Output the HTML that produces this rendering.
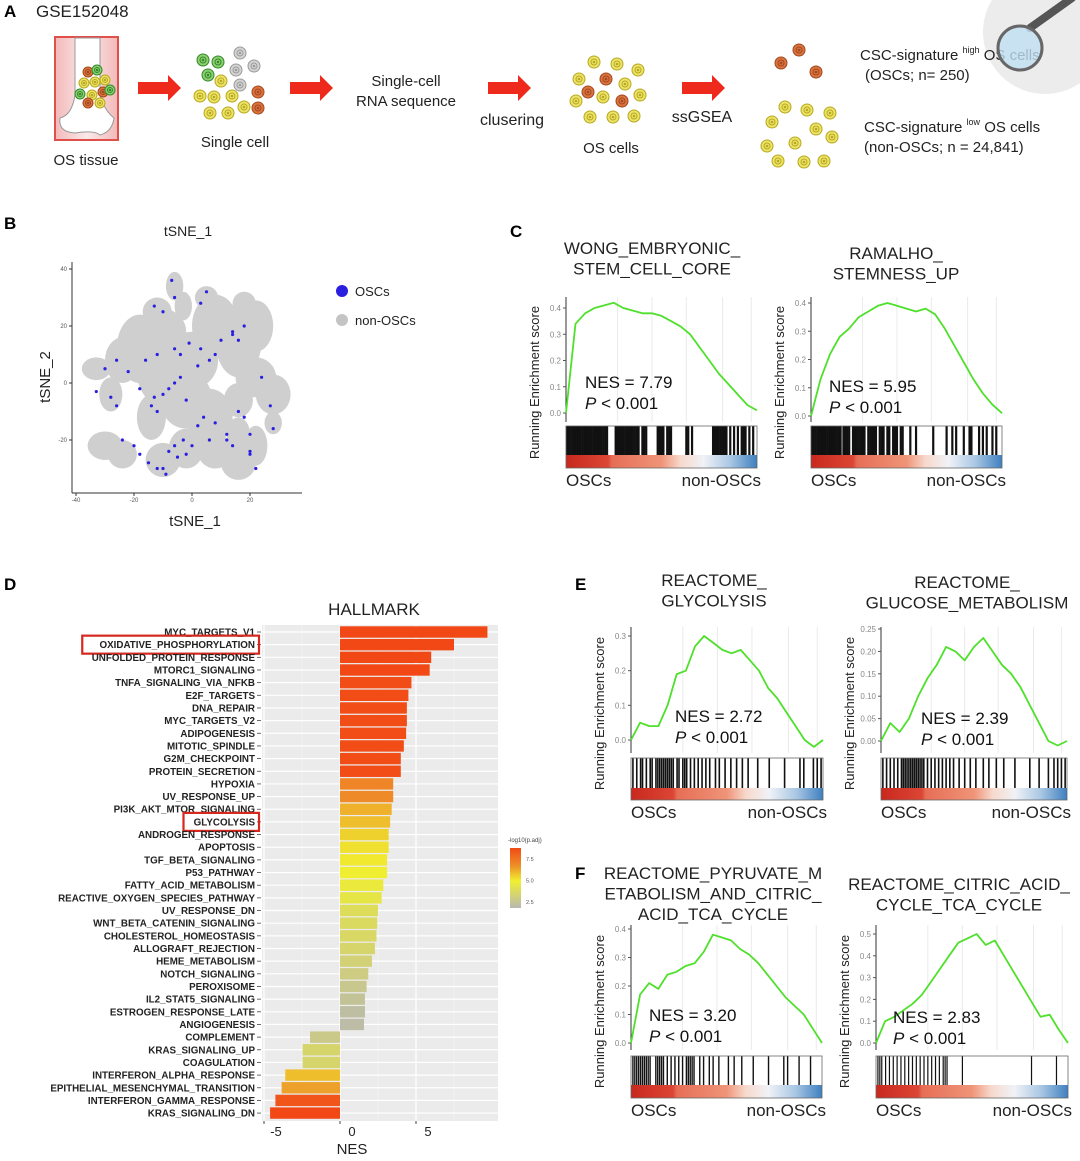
<!DOCTYPE html>
<html><head><meta charset="utf-8">
<style>
html,body{margin:0;padding:0;background:#fff;}
svg{display:block;font-family:"Liberation Sans",Arial,sans-serif;}
</style></head>
<body>
<svg id="fig" width="1080" height="1161" viewBox="0 0 1080 1161" xmlns="http://www.w3.org/2000/svg">
<defs>
<linearGradient id="rankGrad" x1="0" x2="1" y1="0" y2="0">
<stop offset="0" stop-color="#c8281e"/><stop offset="0.22" stop-color="#dc4634"/>
<stop offset="0.24" stop-color="#e66e56"/><stop offset="0.5" stop-color="#ef9478"/>
<stop offset="0.6" stop-color="#f7d9cc"/><stop offset="0.72" stop-color="#f0f2f7"/>
<stop offset="0.86" stop-color="#a9c7e3"/><stop offset="1" stop-color="#3f80c0"/>
</linearGradient>
<linearGradient id="pGrad" x1="0" x2="0" y1="0" y2="1">
<stop offset="0" stop-color="#f04a14"/><stop offset="0.3" stop-color="#ee9028"/>
<stop offset="0.55" stop-color="#f0ef30"/><stop offset="1" stop-color="#b8b8b2"/>
</linearGradient>
<linearGradient id="pinkGrad" x1="0" x2="1" y1="0" y2="0">
<stop offset="0" stop-color="#f3b9b9"/><stop offset="0.5" stop-color="#fbe9e9"/><stop offset="1" stop-color="#f3b9b9"/>
</linearGradient>
</defs>

<g>
<text x="4" y="17" font-size="17" font-weight="bold">A</text>
<text x="36" y="17" font-size="17" fill="#222">GSE152048</text>
<rect x="55" y="37" width="63" height="103" fill="url(#pinkGrad)" stroke="#e0504a" stroke-width="2"/>
<path d="M75 38 L75 95 Q72 115 60 118 Q58 132 75 133 Q95 130 100 135 Q112 132 114 118 Q104 110 100 95 L100 38 Z" fill="#fff" stroke="#999" stroke-width="1"/>
<text x="86" y="165" font-size="15" fill="#222" text-anchor="middle">OS tissue</text>
<g id="cellsA"></g>
<text x="235" y="147" font-size="15" fill="#222" text-anchor="middle">Single cell</text>
<text x="406" y="86" font-size="15" fill="#222" text-anchor="middle">Single-cell</text>
<text x="406" y="106" font-size="15" fill="#222" text-anchor="middle">RNA sequence</text>
<text x="512" y="125" font-size="16" fill="#222" text-anchor="middle">clusering</text>
<text x="611" y="153" font-size="15" fill="#222" text-anchor="middle">OS cells</text>
<text x="702" y="122" font-size="16" fill="#222" text-anchor="middle">ssGSEA</text>
<circle cx="1045" cy="32" r="62" fill="#ececec"/>
<text x="860" y="60" font-size="15" fill="#222">CSC-signature <tspan font-size="9" dy="-7">high</tspan><tspan dy="7"> OS cells</tspan></text>
<text x="865" y="80" font-size="15" fill="#222">(OSCs; n= 250)</text>
<text x="864" y="132" font-size="15" fill="#222">CSC-signature <tspan font-size="9" dy="-7">low</tspan><tspan dy="7"> OS cells</tspan></text>
<text x="864" y="152" font-size="15" fill="#222">(non-OSCs; n = 24,841)</text>
<line x1="1030" y1="28" x2="1072" y2="-2" stroke="#555" stroke-width="8" stroke-linecap="round"/>
<circle cx="1020" cy="48" r="22" fill="#bfe0f3" fill-opacity="0.8" stroke="#666" stroke-width="3"/>
<g id="arrowsA"></g>
</g>

<g>
<text x="4" y="229" font-size="17" font-weight="bold">B</text>
<text x="188" y="236" font-size="14" fill="#222" text-anchor="middle">tSNE_1</text>
<g id="tsne"></g>
<circle cx="342" cy="291" r="6" fill="#2a1fe0"/>
<text x="355" y="296" font-size="13" fill="#222">OSCs</text>
<circle cx="342" cy="320" r="6" fill="#c4c4c4"/>
<text x="355" y="325" font-size="13" fill="#222">non-OSCs</text>
<text x="195" y="526" font-size="15" fill="#222" text-anchor="middle">tSNE_1</text>
<text transform="translate(50,377) rotate(-90)" font-size="15" fill="#222" text-anchor="middle">tSNE_2</text>
</g>

<text x="510" y="237" font-size="17" font-weight="bold">C</text>
<text x="4" y="590" font-size="17" font-weight="bold">D</text>
<text x="575" y="590" font-size="17" font-weight="bold">E</text>
<text x="575" y="879" font-size="17" font-weight="bold">F</text>
<g id="gseaPanels"></g>
<g id="hallmark"></g>
</svg>

<script>
const hmCategories = ["MYC_TARGETS_V1","OXIDATIVE_PHOSPHORYLATION","UNFOLDED_PROTEIN_RESPONSE","MTORC1_SIGNALING","TNFA_SIGNALING_VIA_NFKB","E2F_TARGETS","DNA_REPAIR","MYC_TARGETS_V2","ADIPOGENESIS","MITOTIC_SPINDLE","G2M_CHECKPOINT","PROTEIN_SECRETION","HYPOXIA","UV_RESPONSE_UP","PI3K_AKT_MTOR_SIGNALING","GLYCOLYSIS","ANDROGEN_RESPONSE","APOPTOSIS","TGF_BETA_SIGNALING","P53_PATHWAY","FATTY_ACID_METABOLISM","REACTIVE_OXYGEN_SPECIES_PATHWAY","UV_RESPONSE_DN","WNT_BETA_CATENIN_SIGNALING","CHOLESTEROL_HOMEOSTASIS","ALLOGRAFT_REJECTION","HEME_METABOLISM","NOTCH_SIGNALING","PEROXISOME","IL2_STAT5_SIGNALING","ESTROGEN_RESPONSE_LATE","ANGIOGENESIS","COMPLEMENT","KRAS_SIGNALING_UP","COAGULATION","INTERFERON_ALPHA_RESPONSE","EPITHELIAL_MESENCHYMAL_TRANSITION","INTERFERON_GAMMA_RESPONSE","KRAS_SIGNALING_DN"];
const hmNES = [9.7,7.5,6.0,5.9,4.7,4.5,4.4,4.4,4.35,4.2,4.0,4.0,3.5,3.5,3.4,3.3,3.2,3.2,3.1,3.1,2.85,2.74,2.5,2.45,2.4,2.3,2.1,1.86,1.75,1.64,1.64,1.58,-1.97,-2.46,-2.46,-3.6,-3.84,-4.25,-4.6];
const hmLogP = [8.6,8.6,8.6,8.6,8.5,8.5,8.5,8.5,8.5,8.5,8.5,8.5,7.2,7.1,6.3,6.0,5.6,5.3,5.1,5.0,4.7,4.4,3.9,3.7,3.6,3.4,3.1,2.8,2.5,2.2,1.9,1.8,2.6,3.4,3.4,6.0,6.6,8.3,8.6];
const hmXTicks = [-5,0,5];
const hmLegendTicks = ["7.5","5.0","2.5"];
const hmLegendVals = [7.5,5.0,2.5];
const hmBoxed = ["OXIDATIVE_PHOSPHORYLATION","GLYCOLYSIS"];

const tsneClusters = [[-33,5,5,4],[-28,-4,4,6],[-24,8,6,8],[-18,12,8,12],[-10,18,8,8],[-12,25,5,5],[-6,34,3,5],[-3,27,3,5],[-10,4,9,12],[0,8,9,10],[-2,-6,9,10],[6,-12,8,10],[-14,-12,5,8],[-30,-22,6,5],[-24,-25,5,5],[-10,-27,6,6],[-2,-23,6,7],[8,-24,6,6],[16,-18,4,6],[16,-28,6,6],[22,-22,4,7],[8,20,8,11],[16,15,8,13],[22,20,6,9],[22,2,7,7],[28,-4,6,7],[16,-6,5,6],[28,-14,3,4],[5,30,4,4],[18,28,4,4]];
const tsneOSCx = [-33,-28,-26,-24,-20,-18,-15,-12,-10,-9,-8,-6,-5,-3,-2,0,2,4,6,-14,-12,-10,-8,-6,-4,-2,2,6,8,12,14,16,18,20,22,-30,-26,-22,-16,-12,-6,-4,-1,3,10,14,18,20,-7,-6,3,5,14,16,-18,-13,8,12,20,24,27,28,-10,-13];
const tsneOSCy = [-3,-5,-8,-20,-22,-25,-28,-30,-30,-32,-24,-22,-26,-20,-25,-22,-15,-12,-20,-8,-10,-4,-2,0,2,-6,6,8,10,-20,-22,-10,-12,-24,-30,5,8,4,8,10,12,10,14,12,15,18,20,-25,36,30,28,32,17,15,-2,-5,-14,-18,-18,2,-8,-16,25,27];

const c1ES = [0,0.34,0.38,0.40,0.41,0.42,0.40,0.39,0.38,0.38,0.37,0.35,0.33,0.30,0.25,0.20,0.15,0.11,0.07,0.03,0.01];
const c2ES = [0,0.13,0.22,0.28,0.31,0.35,0.37,0.39,0.40,0.39,0.38,0.37,0.38,0.36,0.31,0.25,0.19,0.13,0.08,0.04,0.01];
const e1ES = [0,0.05,0.04,0.04,0.10,0.19,0.20,0.27,0.30,0.28,0.26,0.25,0.26,0.23,0.20,0.15,0.12,0.08,0.04,0.0,-0.02,0];
const e2ES = [0,0.04,0.02,0.05,0.10,0.14,0.17,0.21,0.20,0.18,0.21,0.23,0.20,0.17,0.15,0.12,0.08,0.04,0.0,-0.01,0];
const f1ES = [0,0.17,0.21,0.19,0.24,0.25,0.27,0.28,0.32,0.38,0.37,0.36,0.33,0.31,0.28,0.24,0.20,0.16,0.13,0.10,0.05,0];
const f2ES = [0,0.10,0.12,0.15,0.18,0.22,0.28,0.34,0.40,0.46,0.48,0.50,0.45,0.47,0.40,0.33,0.26,0.19,0.12,0.13,0.06,0];
const c1Hits = [0.005,0.015,0.025,0.035,0.045,0.055,0.065,0.075,0.085,0.095,0.105,0.115,0.125,0.135,0.145,0.155,0.165,0.175,0.185,0.195,0.205,0.215,0.26,0.27,0.28,0.29,0.30,0.31,0.32,0.33,0.34,0.35,0.36,0.37,0.38,0.40,0.41,0.42,0.48,0.49,0.50,0.51,0.53,0.54,0.55,0.63,0.64,0.66,0.77,0.78,0.79,0.80,0.81,0.82,0.83,0.84,0.86,0.88,0.90,0.92,0.93,0.94,0.96,0.98];
const c2Hits = [0.005,0.015,0.025,0.035,0.045,0.055,0.065,0.075,0.085,0.095,0.105,0.115,0.125,0.135,0.145,0.155,0.17,0.18,0.19,0.20,0.22,0.23,0.24,0.25,0.26,0.27,0.28,0.30,0.31,0.32,0.33,0.34,0.36,0.37,0.38,0.40,0.41,0.43,0.44,0.45,0.47,0.48,0.52,0.55,0.64,0.71,0.74,0.76,0.80,0.83,0.84,0.88,0.90,0.92,0.95,0.97];
const e1Hits = [0.01,0.03,0.05,0.06,0.08,0.10,0.11,0.13,0.14,0.15,0.16,0.17,0.18,0.19,0.20,0.21,0.22,0.24,0.25,0.27,0.28,0.29,0.31,0.33,0.35,0.37,0.39,0.41,0.44,0.46,0.49,0.52,0.55,0.58,0.61,0.66,0.72,0.80,0.88,0.90,0.95,0.97,0.99];
const e2Hits = [0.01,0.03,0.05,0.07,0.09,0.11,0.12,0.13,0.14,0.15,0.16,0.17,0.18,0.19,0.20,0.21,0.22,0.23,0.25,0.27,0.29,0.31,0.33,0.35,0.37,0.39,0.42,0.45,0.48,0.51,0.55,0.58,0.62,0.66,0.72,0.80,0.85,0.90,0.93,0.95,0.97,0.99];
const f1Hits = [0.01,0.02,0.03,0.04,0.05,0.06,0.07,0.08,0.09,0.10,0.13,0.14,0.15,0.16,0.17,0.19,0.21,0.23,0.25,0.27,0.29,0.30,0.31,0.32,0.33,0.36,0.38,0.41,0.43,0.46,0.51,0.54,0.58,0.64,0.72,0.80,0.82,0.88,0.94];
const f2Hits = [0.01,0.02,0.03,0.05,0.07,0.09,0.11,0.13,0.15,0.17,0.19,0.21,0.23,0.25,0.27,0.29,0.31,0.33,0.35,0.36,0.37,0.45,0.81,0.94];

const NS = "http://www.w3.org/2000/svg";
function mk(tag, attrs, parent){ const e=document.createElementNS(NS,tag); for(const k in attrs) e.setAttribute(k,attrs[k]); if(parent) parent.appendChild(e); return e; }

const cellColors = {g:["#2f8a2a","#8fcf70"], y:["#b8a81c","#ece36a"], r:["#a4461e","#d9743e"], s:["#9a9a9a","#d4d4d4"]};
const cellsA = document.getElementById('cellsA');
const cellList = [
 [203,60,'g'],[218,62,'g'],[208,75,'g'],[240,53,'s'],[236,70,'s'],[254,66,'s'],[240,85,'s'],
 [221,81,'y'],[200,96,'y'],[214,97,'y'],[232,96,'y'],[210,113,'y'],[228,113,'y'],[244,107,'y'],[258,92,'r'],[258,108,'r'],
 [594,62,'y'],[617,64,'y'],[638,70,'y'],[579,79,'y'],[625,84,'y'],[640,95,'y'],[576,101,'y'],[603,97,'y'],[590,117,'y'],[613,117,'y'],[634,116,'y'],[606,79,'r'],[588,92,'r'],[622,101,'r'],
 [799,50,'r'],[781,63,'r'],[816,72,'r'],
 [785,107,'y'],[807,110,'y'],[830,113,'y'],[772,122,'y'],[816,129,'y'],[832,137,'y'],[767,146,'y'],[795,143,'y'],[778,161,'y'],[804,162,'y'],[824,161,'y'],
 [88,72,'r'],[97,70,'g'],[84,83,'y'],[95,82,'y'],[105,80,'y'],[80,94,'g'],[92,95,'y'],[103,92,'r'],[88,103,'r'],[100,103,'y'],[110,90,'g']
];
cellList.forEach(c=>{
  const col = cellColors[c[2]]; const small = c[0]<130;
  const r = small?5:6;
  const g = mk('g',{},cellsA);
  
  
  mk('circle',{cx:c[0],cy:c[1],r:r,fill:col[1],stroke:col[0],'stroke-width':1},g);
  mk('circle',{cx:c[0],cy:c[1],r:r*0.5,fill:'none',stroke:col[0],'stroke-width':1},g);
  mk('circle',{cx:c[0],cy:c[1],r:1.3,fill:col[0]},g);
});
const arrowsA = document.getElementById('arrowsA');
[[138,88],[290,88],[488,88],[682,88]].forEach(a=>{
  const p = mk('path',{d:`M${a[0]} ${a[1]-6} h30 v-7 l13 13 l-13 13 v-7 h-30 z`,fill:'#ee2a1c'},arrowsA);
  
  
});

(function(){
  const g = document.getElementById('tsne');
  const sx = v => 192 + v*2.9;
  const sy = v => 383 - v*2.85;
  const clip = mk('g',{opacity:'0.88'},g);
  tsneClusters.forEach(c=>{
    const e = mk('ellipse',{cx:sx(c[0]),cy:sy(c[1]),rx:c[2]*2.9,ry:c[3]*2.85,fill:'#c9c9c9'},clip);
    
    
  });
  tsneOSCx.forEach((x,i)=>{
    const p = mk('circle',{cx:sx(x),cy:sy(tsneOSCy[i]),r:1.6,fill:'#2a1fe0'},g);
    
    
  });
  mk('line',{x1:72,y1:262,x2:72,y2:493,stroke:'#333','stroke-width':1},g);
  mk('line',{x1:72,y1:493,x2:302,y2:493,stroke:'#333','stroke-width':1},g);
  [40,20,0,-20].forEach(v=>{
    mk('line',{x1:69,y1:sy(v),x2:72,y2:sy(v),stroke:'#333'},g);
    const t = mk('text',{x:67,y:sy(v)+2,'font-size':6,'text-anchor':'end',fill:'#555'},g); t.textContent=v;
    
    
  });
  [-40,-20,0,20].forEach(v=>{
    mk('line',{x1:sx(v),y1:493,x2:sx(v),y2:496,stroke:'#333'},g);
    const t = mk('text',{x:sx(v),y:502,'font-size':6,'text-anchor':'middle',fill:'#555'},g); t.textContent=v;
    
    
  });
})();

function gsea(cfg){
  const root = document.getElementById('gseaPanels');
  const g = mk('g',{},root);
  
  
  const {x0,x1,top,bot,v0y,vTop,vTopY,ticks,es,hits,bcTop,bcBot,cbBot} = cfg;
  const sy = v => v0y - (v/vTop)*(v0y - vTopY);
  const sx = f => x0 + f*(x1-x0);
  [0.27,0.45,0.63,0.82,0.97].forEach(f=>mk('line',{x1:sx(f),y1:top,x2:sx(f),y2:bot,stroke:'#eaeaea','stroke-width':1},g));
  mk('line',{x1:x0,y1:top,x2:x0,y2:bot,stroke:'#333','stroke-width':1},g);
  ticks.forEach(v=>{
    mk('line',{x1:x0-3,y1:sy(v),x2:x0,y2:sy(v),stroke:'#555'},g);
    const t = mk('text',{x:x0-5,y:sy(v)+3,'font-size':8,'text-anchor':'end',fill:'#888'},g);
    t.textContent = v.toFixed(cfg.dec);
    
    
  });
  const pts = es.map((v,i)=>`${sx(i/(es.length-1)).toFixed(1)},${sy(v).toFixed(1)}`).join(' ');
  const line = mk('polyline',{points:pts,fill:'none',stroke:'#4ee02a','stroke-width':1.8,'stroke-linejoin':'round'},g);
  
  
  hits.forEach(h=>{
    const l = mk('line',{x1:sx(h),y1:bcTop,x2:sx(h),y2:bcBot,stroke:'#111','stroke-width':cfg.hw||2.2},g);
    
    
  });
  const cb = mk('rect',{x:x0,y:bcBot,width:x1-x0,height:cbBot-bcBot,fill:'url(#rankGrad)'},g);
  
  
  mk('rect',{x:x0,y:bcTop,width:x1-x0,height:cbBot-bcTop,fill:'none',stroke:'#666','stroke-width':0.8},g);
  cfg.title.forEach((s,i)=>{
    const t = mk('text',{x:cfg.tx,y:cfg.ty+i*20.5,'font-size':17,'text-anchor':'middle',fill:'#222'},g);
    t.textContent = s;
    
    
  });
  const n = mk('text',{x:cfg.nx,y:cfg.ny,'font-size':17,fill:'#111'},g);
  n.textContent = cfg.nes;
  
  
  const p = mk('text',{x:cfg.nx,y:cfg.ny+21,'font-size':17,fill:'#111'},g);
  p.innerHTML = '<tspan font-style="italic">P</tspan> &lt; 0.001';
  
  
  const yt = mk('text',{transform:`translate(${x0-27},${(top+cbBot)/2}) rotate(-90)`,'font-size':13,'text-anchor':'middle',fill:'#222'},g);
  yt.textContent = 'Running Enrichment score';
  
  
  const a = mk('text',{x:x0,y:cbBot+18,'font-size':17,fill:'#222'},g); a.textContent='OSCs';
  
  
  const b = mk('text',{x:x1+4,y:cbBot+18,'font-size':17,fill:'#222','text-anchor':'end'},g); b.textContent='non-OSCs';
  
  
}
gsea({name:'gsea-wong',x0:566,x1:757,top:297,bot:422,v0y:413,vTop:0.4,vTopY:308,ticks:[0,0.1,0.2,0.3,0.4],dec:1,es:c1ES,hits:c1Hits,bcTop:426,bcBot:455,cbBot:468,title:['WONG_EMBRYONIC_','STEM_CELL_CORE'],tx:652,ty:254,nes:'NES = 7.79',nx:585,ny:388});
gsea({name:'gsea-ramalho',x0:811,x1:1002,top:297,bot:422,v0y:416,vTop:0.4,vTopY:303,ticks:[0,0.1,0.2,0.3,0.4],dec:1,es:c2ES,hits:c2Hits,bcTop:426,bcBot:455,cbBot:468,title:['RAMALHO_','STEMNESS_UP'],tx:896,ty:259,nes:'NES = 5.95',nx:829,ny:392});
gsea({name:'gsea-glycolysis',x0:631,x1:823,top:627,bot:753,v0y:740,vTop:0.3,vTopY:636,ticks:[0,0.1,0.2,0.3],dec:1,es:e1ES,hits:e1Hits,hw:1.6,bcTop:758,bcBot:788,cbBot:800,title:['REACTOME_','GLYCOLYSIS'],tx:714,ty:586,nes:'NES = 2.72',nx:675,ny:722});
gsea({name:'gsea-glucose',x0:881,x1:1067,top:627,bot:753,v0y:741,vTop:0.25,vTopY:629,ticks:[0,0.05,0.1,0.15,0.2,0.25],dec:2,es:e2ES,hits:e2Hits,hw:1.6,bcTop:758,bcBot:788,cbBot:800,title:['REACTOME_','GLUCOSE_METABOLISM'],tx:967,ty:588,nes:'NES = 2.39',nx:921,ny:724});
gsea({name:'gsea-pyruvate',x0:631,x1:822,top:925,bot:1050,v0y:1043,vTop:0.4,vTopY:929,ticks:[0,0.1,0.2,0.3,0.4],dec:1,es:f1ES,hits:f1Hits,hw:1.4,bcTop:1056,bcBot:1085,cbBot:1098,title:['REACTOME_PYRUVATE_M','ETABOLISM_AND_CITRIC_','ACID_TCA_CYCLE'],tx:713,ty:879,nes:'NES = 3.20',nx:649,ny:1021});
gsea({name:'gsea-citric',x0:876,x1:1068,top:925,bot:1050,v0y:1043,vTop:0.5,vTopY:934,ticks:[0,0.1,0.2,0.3,0.4,0.5],dec:1,es:f2ES,hits:f2Hits,hw:1.2,bcTop:1056,bcBot:1085,cbBot:1098,title:['REACTOME_CITRIC_ACID_','CYCLE_TCA_CYCLE'],tx:959,ty:890,nes:'NES = 2.83',nx:893,ny:1023});

(function(){
  const g = document.getElementById('hallmark');
  
  
  const X0 = 340, unit = 15.2, rowTop = 632, step = 12.66, bh = 11.4;
  const xs = v => X0 + v*unit;
  const ys = i => rowTop + i*step;
  function pcol(p){
    const stops=[[1.5,[184,184,178]],[5,[240,238,48]],[7,[238,142,40]],[8.6,[242,72,22]]];
    if(p<=stops[0][0]) return 'rgb(184,184,178)';
    for(let i=1;i<stops.length;i++){ if(p<=stops[i][0]){ const a=stops[i-1],b=stops[i],t=(p-a[0])/(b[0]-a[0]); return 'rgb('+a[1].map((c,k)=>Math.round(c+(b[1][k]-c)*t)).join(',')+')'; } }
    return 'rgb(242,72,22)';
  }
  mk('rect',{x:262,y:625,width:236,height:496,fill:'#ebebeb'},g);
  [-2.5,2.5,7.5].forEach(v=>mk('line',{x1:xs(v),y1:625,x2:xs(v),y2:1121,stroke:'#f4f4f4','stroke-width':0.8},g));
  hmXTicks.forEach(v=>mk('line',{x1:xs(v),y1:625,x2:xs(v),y2:1121,stroke:'#fff','stroke-width':1.2},g));
  hmCategories.forEach((c,i)=>mk('line',{x1:262,y1:ys(i),x2:498,y2:ys(i),stroke:'#fff','stroke-width':1.2},g));
  hmCategories.forEach((c,i)=>{
    const v = hmNES[i];
    const r = mk('rect',{x:Math.min(xs(0),xs(v)),y:ys(i)-bh/2,width:Math.abs(xs(v)-xs(0)),height:bh,fill:pcol(hmLogP[i])},g);
    
    
    const t = mk('text',{x:255,y:ys(i)+3.5,'font-size':9.8,'font-weight':'bold','text-anchor':'end',fill:'#222'},g);
    t.textContent = c;
    
    
    mk('line',{x1:257,y1:ys(i),x2:261,y2:ys(i),stroke:'#444','stroke-width':0.8},g);
    if(hmBoxed.indexOf(c)>=0){
      const w = c.length*6.75+8;
      const bx = mk('rect',{x:259-w,y:ys(i)-9,width:w,height:18,fill:'none',stroke:'#d6281e','stroke-width':2.2},g);
      
      
    }
  });
  hmXTicks.forEach(v=>{
    mk('line',{x1:xs(v),y1:1121,x2:xs(v),y2:1124,stroke:'#444'},g);
    const t = mk('text',{x:xs(v)+12,y:1136,'font-size':13,'text-anchor':'middle',fill:'#222'},g);
    t.textContent = v;
    
    
  });
  const xt = mk('text',{x:352,y:1154,'font-size':15,'text-anchor':'middle',fill:'#222'},g); xt.textContent='NES';
  
  
  const tt = mk('text',{x:374,y:615,'font-size':17,'text-anchor':'middle',fill:'#222'},g); tt.textContent='HALLMARK';
  
  
  const lt = mk('text',{x:508,y:842,'font-size':6,fill:'#444'},g); lt.textContent='-log10(p.adj)';
  
  
  const lb = mk('rect',{x:510,y:848,width:11,height:60,fill:'url(#pGrad)'},g);
  
  
  const ly = v => 908 - (v-1.8)/(8.8-1.8)*60;
  hmLegendVals.forEach((v,i)=>{
    const t = mk('text',{x:526,y:ly(v)+2,'font-size':5.5,fill:'#555'},g); t.textContent=hmLegendTicks[i];
    
    
  });
})();
</script>
</body></html>
